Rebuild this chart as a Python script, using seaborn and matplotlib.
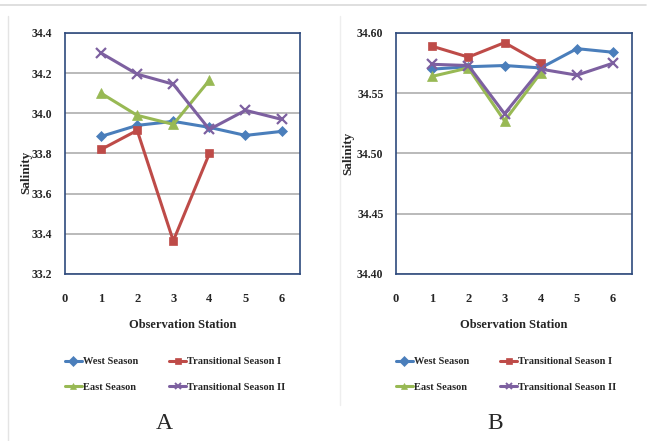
import numpy as np
import pandas as pd
import matplotlib
matplotlib.use("Agg")
import matplotlib.pyplot as plt
from matplotlib.lines import Line2D
import seaborn as sns

# Salinity by observation station for each season
stations = [1, 2, 3, 4, 5, 6]
series_names = ["West Season", "Transitional Season I", "East Season", "Transitional Season II"]

# Panel A
west_a = [33.885, 33.94, 33.96, 33.93, 33.89, 33.91]
trans1_a = [33.82, 33.915, 33.365, 33.80]
east_a = [34.10, 33.99, 33.945, 34.165]
trans2_a = [34.30, 34.195, 34.145, 33.92, 34.015, 33.97]

# Panel B
west_b = [34.570, 34.572, 34.573, 34.571, 34.587, 34.584]
trans1_b = [34.589, 34.580, 34.592, 34.575]
east_b = [34.564, 34.571, 34.527, 34.567]
trans2_b = [34.574, 34.573, 34.533, 34.570, 34.565, 34.575]

yticks_a = [33.2, 33.4, 33.6, 33.8, 34.0, 34.2, 34.4]
yticks_b = [34.40, 34.45, 34.50, 34.55, 34.60]
xticks = [0, 1, 2, 3, 4, 5, 6]

colors = {
    "West Season": "#4a7ebb",
    "Transitional Season I": "#be4b48",
    "East Season": "#98b954",
    "Transitional Season II": "#7d60a0",
}
markers = {
    "West Season": "D",
    "Transitional Season I": "s",
    "East Season": "^",
    "Transitional Season II": "x",
}
msizes = {
    "West Season": 5,
    "Transitional Season I": 6,
    "East Season": 6.5,
    "Transitional Season II": 6.5,
}


def long_frame(values):
    rows = []
    for name, vals in zip(series_names, values):
        for st, v in zip(stations, vals):
            rows.append({"Station": st, "Salinity": v, "Series": name})
    return pd.DataFrame(rows)


df_a = long_frame([west_a, trans1_a, east_a, trans2_a])
df_b = long_frame([west_b, trans1_b, east_b, trans2_b])

sns.set_theme(style="white")
plt.rcParams["font.family"] = ["Liberation Serif", "DejaVu Serif"]

fig = plt.figure(figsize=(6.53, 4.41), dpi=100)
ax_a = fig.add_axes([0.0995, 0.3787, 0.3605, 0.5465])
ax_b = fig.add_axes([0.6064, 0.3787, 0.3614, 0.5465])

spine_color = "#2e4a7d"


def draw_panel(ax, df, yticks, fmt, letter, ylab_x, ylab_y):
    for name in series_names:
        sub = df[df["Series"] == name]
        sns.lineplot(data=sub, x="Station", y="Salinity", ax=ax,
                     color=colors[name], marker=markers[name],
                     markersize=msizes[name], markeredgecolor=colors[name],
                     markeredgewidth=1.6 if markers[name] == "x" else 0.5,
                     linewidth=2.2, legend=False, zorder=3)
    ax.set_xlim(0, 6.52)
    ax.set_ylim(yticks[0], yticks[-1])
    ax.set_yticks(yticks)
    ax.set_yticklabels([fmt.format(t) for t in yticks], fontsize=8.5,
                       fontweight="bold")
    ax.set_xticks(xticks)
    ax.set_xticklabels([str(t) for t in xticks], fontsize=9, fontweight="bold")
    ax.yaxis.grid(True, color="#b4b4b4", linewidth=1.3)
    ax.xaxis.grid(False)
    ax.set_axisbelow(True)
    for sp in ax.spines.values():
        sp.set_visible(True)
        sp.set_color(spine_color)
        sp.set_linewidth(1.2)
    ax.tick_params(axis="x", direction="out", length=3, width=1.0,
                   color=spine_color, pad=11)
    ax.tick_params(axis="y", left=False, pad=3)
    ax.set_xlabel("Observation Station", fontsize=9, fontweight="bold")
    ax.xaxis.set_label_coords(0.5, -0.185)
    ax.set_ylabel("Salinity", fontsize=9.5, fontweight="bold")
    ax.yaxis.set_label_coords(ylab_x, ylab_y)

    handles = [Line2D([], [], color=colors[n], marker=markers[n], markersize=5,
                      markeredgewidth=1.4 if markers[n] == "x" else 0.5,
                      linewidth=2.2) for n in series_names]
    order = [0, 2, 1, 3]
    ax.legend([handles[i] for i in order], [series_names[i] for i in order],
              ncol=2, loc="upper left", bbox_to_anchor=(0.0, -0.345),
              borderpad=0, borderaxespad=0,
              frameon=False, prop={"size": 7.5, "weight": "bold"},
              handlelength=1.6, handletextpad=0.1,
              columnspacing=3.0, labelspacing=1.55)
    ax.text(0.42, -0.575, letter, transform=ax.transAxes, ha="center",
            va="top", fontsize=17)


draw_panel(ax_a, df_a, yticks_a, "{:.1f}", "A", -0.14, 0.42)
draw_panel(ax_b, df_b, yticks_b, "{:.2f}", "B", -0.175, 0.5)

# Chart-area frame lines
frame = "#d9d9d9"
fig.add_artist(Line2D([0.0, 0.99], [1 - 5 / 441, 1 - 5 / 441],
                      transform=fig.transFigure, color=frame, linewidth=1.2))
fig.add_artist(Line2D([8 / 653, 8 / 653], [0.0, 1 - 16 / 441],
                      transform=fig.transFigure, color="#e4e4e4", linewidth=1.0))
fig.add_artist(Line2D([340 / 653, 340 / 653], [1 - 405 / 441, 1 - 16 / 441],
                      transform=fig.transFigure, color="#eeeeee", linewidth=1.0))

fig.savefig("out.png", dpi=100)
